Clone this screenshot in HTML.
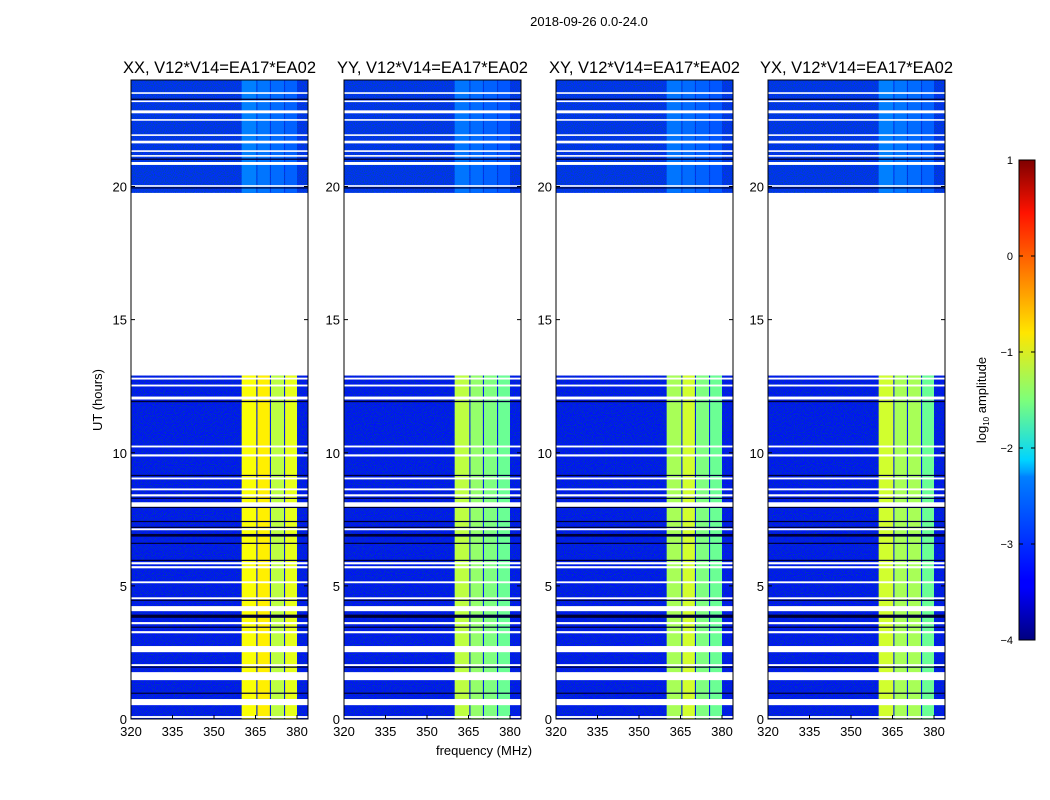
<!DOCTYPE html>
<html><head><meta charset="utf-8"><style>
body{margin:0;background:#fff;}
svg{display:block;font-family:"Liberation Sans",sans-serif;}
</style></head><body>
<svg id="chart" width="1050" height="800" viewBox="0 0 1050 800" xmlns="http://www.w3.org/2000/svg">
<defs>
<linearGradient id="jet" x1="0" y1="1" x2="0" y2="0">
<stop offset="0" stop-color="#00007f"/><stop offset="0.11" stop-color="#0000ff"/><stop offset="0.125" stop-color="#0000ff"/>
<stop offset="0.34" stop-color="#0080ff"/><stop offset="0.35" stop-color="#00a0ff"/><stop offset="0.375" stop-color="#00d4ff"/>
<stop offset="0.5" stop-color="#7dff7a"/><stop offset="0.64" stop-color="#ffe600"/><stop offset="0.89" stop-color="#ff1300"/><stop offset="1" stop-color="#7f0000"/>
</linearGradient>
<filter id="noise" x="0" y="0" width="100%" height="100%">
<feTurbulence type="fractalNoise" baseFrequency="0.9" numOctaves="1" seed="3" result="n"/>
<feColorMatrix in="n" type="matrix" values="0 0 0 0 0  0 0 0 0 0.1  0 0 0 0 0.2  0 0 0 -2.2 1.3" result="m"/>
<feComposite in="m" in2="SourceGraphic" operator="in"/>
</filter>
</defs>
<text x="589" y="26" font-size="13" text-anchor="middle">2018-09-26 0.0-24.0</text>
<text x="484" y="755" font-size="13" text-anchor="middle">frequency (MHz)</text>
<text x="102" y="400" font-size="13" text-anchor="middle" transform="rotate(-90 102 400)">UT (hours)</text>
<g id="panels"></g>
<g>
<rect x="1019" y="160" width="16" height="480" fill="url(#jet)" stroke="#000" stroke-width="1"/>
<g id="cbticks"></g>
<text x="986" y="400" font-size="13" text-anchor="middle" transform="rotate(-90 986 400)">log<tspan font-size="8" dy="3">10</tspan><tspan dy="-3"> amplitude</tspan></text>
</g>
</svg>
<script>
const panelTitles = ["XX, V12*V14=EA17*EA02","YY, V12*V14=EA17*EA02","XY, V12*V14=EA17*EA02","YX, V12*V14=EA17*EA02"];
const xTicks = [320,335,350,365,380];
const yTicks = [0,5,10,15,20];
const cbTicks = [1,0,-1,-2,-3,-4];
const dataSections = [[0,12.9],[19.76,24]];
const sectionBackground = [-3.3,-3.15];
const subbands = [[360,365.3],[365.7,370.2],[370.6,375.3],[375.7,380]];
const lowerBandLevels = [[-0.9,-0.8,-1.2,-1.0],[-1.2,-1.4,-1.5,-1.6],[-1.3,-1.1,-1.5,-1.6],[-1.1,-1.3,-1.3,-1.6]];
const upperBandLevels = [[-2.75,-2.8,-2.85,-2.9],[-2.8,-2.85,-2.9,-2.95],[-2.8,-2.85,-2.9,-2.95],[-2.75,-2.8,-2.85,-2.9]];
const whiteGaps = [[12.75,12.82],[12.49,12.56],[12.0,12.11],[10.2,10.27],[9.86,9.94],[9.0,9.07],[8.59,8.66],[8.36,8.44],[7.95,8.14],[7.09,7.16],[5.81,5.89],[5.66,5.74],[5.10,5.17],[4.5,4.57],[4.05,4.24],[3.56,3.64],[3.22,3.3],[2.51,2.74],[1.99,2.06],[1.46,1.76],[0.52,0.75],[0.04,0.11],
  [23.48,23.54],[23.17,23.23],[22.75,22.86],[22.47,22.53],[21.9,21.96],[21.62,21.72],[21.3,21.36],[21.12,21.18],[20.81,20.92],[19.99,20.05]];
const darkLines = [[11.9,11.95],[9.13,9.17],[8.27,8.31],[7.93,7.97],[7.4,7.44],[7.18,7.22],[6.85,6.95],[6.58,6.62],[5.94,5.98],[4.44,4.48],[3.8,3.92],[3.43,3.47],[1.93,1.97],[0.95,0.99],[23.25,23.3],[21.0,21.05],[19.93,19.97]];

const NS="http://www.w3.org/2000/svg";
const panelLeft=[131,344,556,768], PW=177, PT=80, PB=719;
function jet(v){const t=Math.max(0,Math.min(1,(v+4)/5));const c=x=>Math.round(255*Math.max(0,Math.min(1,x)));
 return `rgb(${c(1.5-Math.abs(4*t-3))},${c(1.5-Math.abs(4*t-2))},${c(1.5-Math.abs(4*t-1))})`;}
function el(tag,attrs,parent,txt){const e=document.createElementNS(NS,tag);for(const k in attrs)e.setAttribute(k,attrs[k]);if(txt!==undefined)e.textContent=txt;parent.appendChild(e);return e;}
const panelsG=document.getElementById('panels');
panelTitles.forEach((title,p)=>{
 const L=panelLeft[p];
 const xs=f=>L+(f-320)*166/60;
 const ys=h=>PB-(h)*(PB-PT)/24;
 const g=el('g',{},panelsG);
 
 
 dataSections.forEach((s,si)=>{
  const r=el('rect',{x:L,y:ys(s[1]),width:PW,height:ys(s[0])-ys(s[1]),fill:jet(sectionBackground[si])},g);
  
  
  const nz=el('rect',{x:L,y:ys(s[1]),width:PW,height:ys(s[0])-ys(s[1]),fill:'#000',filter:'url(#noise)'},g);
  
  
  const lv=si===0?lowerBandLevels[p]:upperBandLevels[p];
  subbands.forEach((b,bi)=>{
   const br=el('rect',{x:xs(b[0]),y:ys(s[1]),width:xs(b[1])-xs(b[0]),height:ys(s[0])-ys(s[1]),fill:jet(lv[bi])},g);
   
   
  });
 });
 whiteGaps.forEach(w=>{
  const r=el('rect',{x:L,y:ys(w[1]),width:PW,height:Math.max(1.5,ys(w[0])-ys(w[1])),fill:'#fff'},g);
  
  
 });
 darkLines.forEach(w=>{
  const r=el('rect',{x:L,y:ys(w[1]),width:PW,height:Math.max(1.2,ys(w[0])-ys(w[1])),fill:'#000033'},g);
  
  
 });
 const fr=el('rect',{x:L,y:PT,width:PW,height:PB-PT,fill:'none',stroke:'#000','stroke-width':1},g);
 
 
 const t=el('text',{x:L+PW/2,y:73,'font-size':16.5,'text-anchor':'middle'},g,title);
 
 
 xTicks.forEach(v=>{
  el('line',{x1:xs(v),x2:xs(v),y1:PB,y2:PB-4,stroke:'#000'},g);
  const tl=el('text',{x:xs(v),y:PB+17,'font-size':13,'text-anchor':'middle'},g,v);
  
  
 });
 yTicks.forEach(v=>{
  el('line',{x1:L,x2:L+4,y1:ys(v),y2:ys(v),stroke:'#000'},g);
  el('line',{x1:L+PW,x2:L+PW-4,y1:ys(v),y2:ys(v),stroke:'#000'},g);
  const tl=el('text',{x:L-4,y:ys(v)+5,'font-size':13,'text-anchor':'end'},g,v);
  
  
 });
});
const cg=document.getElementById('cbticks');
cbTicks.forEach(v=>{
 const y=640-(v+4)*96;
 el('line',{x1:1019,x2:1023,y1:y,y2:y,stroke:'#000'},cg);
 el('line',{x1:1035,x2:1031,y1:y,y2:y,stroke:'#000'},cg);
 const tl=el('text',{x:1013,y:y+4,'font-size':11,'text-anchor':'end'},cg,v<0?'\u2212'+(-v):v);
 
 
});
</script>
</body></html>
